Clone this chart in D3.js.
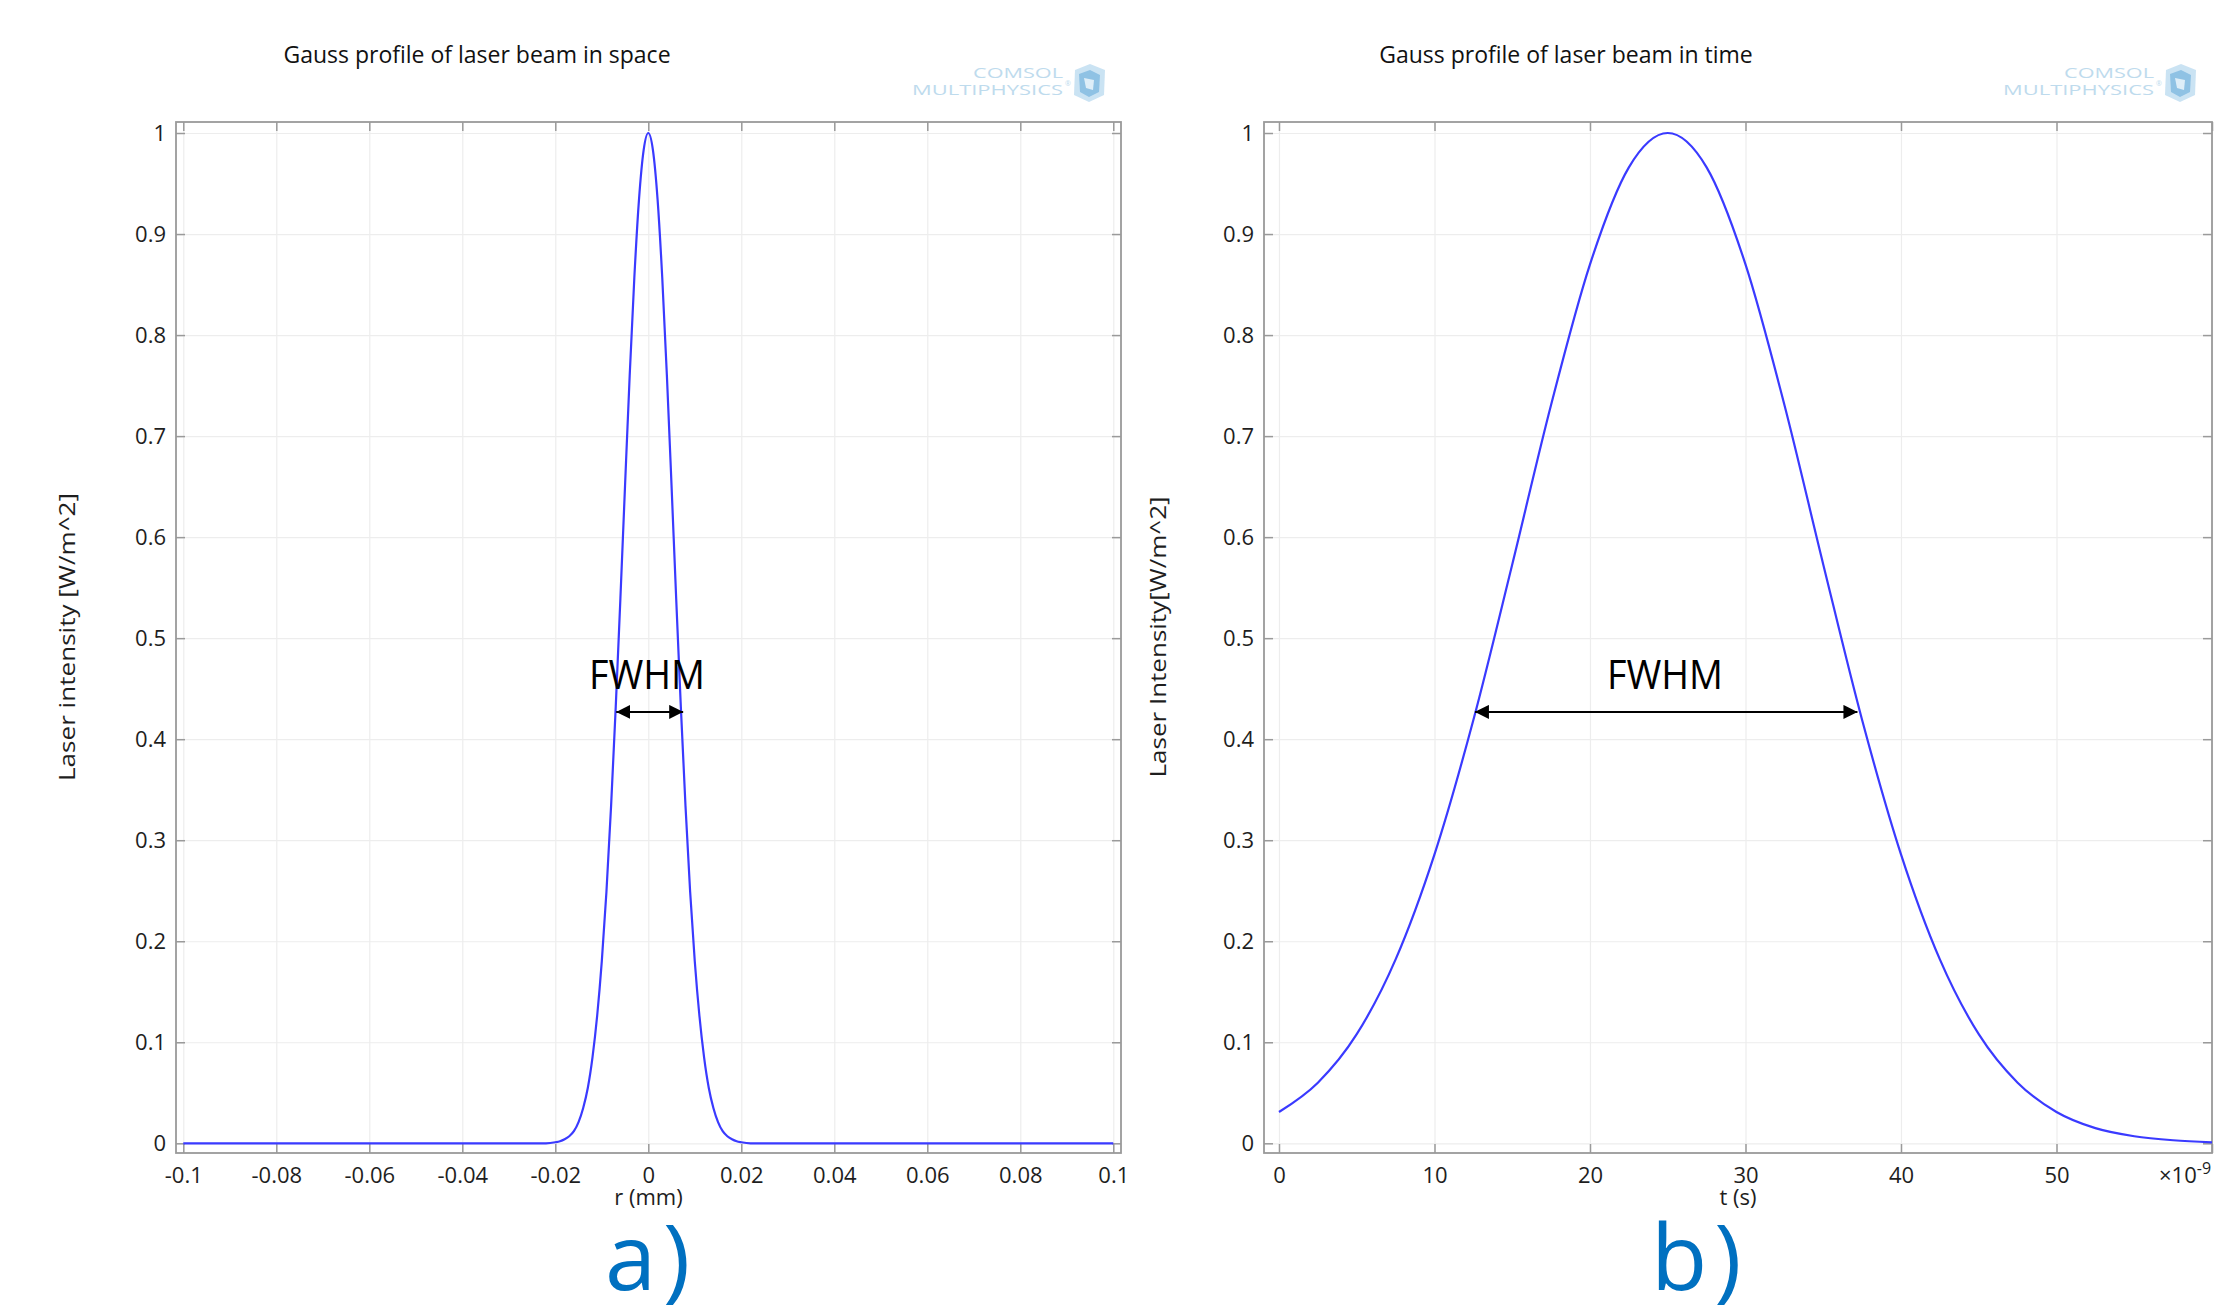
<!DOCTYPE html>
<html><head><meta charset="utf-8">
<script src="https://cdn.jsdelivr.net/npm/d3@7"></script>
<style>
body{margin:0;background:#fff}
svg{display:block}
text{font-family:"Open Sans","Noto Sans",sans-serif}
</style>
</head><body>
<svg id="c" width="2239" height="1315"></svg>
<script>
// ---------- data ----------
const spaceR = [-0.1,-0.06,-0.03,-0.022,-0.020,-0.019,-0.018,-0.017,-0.016,-0.015,-0.014,-0.013,-0.012,-0.011,-0.010,-0.009,-0.008,-0.007,-0.006,-0.005,-0.004,-0.003,-0.002,-0.001,0,
  0.001,0.002,0.003,0.004,0.005,0.006,0.007,0.008,0.009,0.010,0.011,0.012,0.013,0.014,0.015,0.016,0.017,0.018,0.019,0.020,0.022,0.03,0.06,0.1];
const spaceI = [0,0,0,0,0.001,0.002,0.004,0.007,0.012,0.021,0.035,0.055,0.085,0.126,0.180,0.249,0.334,0.432,0.539,0.651,0.760,0.857,0.934,0.983,1,
  0.983,0.934,0.857,0.760,0.651,0.539,0.432,0.334,0.249,0.180,0.126,0.085,0.055,0.035,0.021,0.012,0.007,0.004,0.002,0.001,0,0,0,0];

const timeT = [0,2.5,5,7.5,10,12.5,15,17.5,20,22.5,25,27.5,30,32.5,35,37.5,40,42.5,45,47.5,50,52.5,55,57.5,60];
const timeI = [0.031,0.060,0.108,0.182,0.286,0.419,0.573,0.731,0.870,0.966,1.000,0.966,0.870,0.731,0.573,0.419,0.286,0.182,0.108,0.060,0.031,0.015,0.007,0.003,0.001];

const spaceTicks = [-0.1,-0.08,-0.06,-0.04,-0.02,0,0.02,0.04,0.06,0.08,0.1];
const spaceTickLabels = ["-0.1","-0.08","-0.06","-0.04","-0.02","0","0.02","0.04","0.06","0.08","0.1"];
const timeTicks = [0,10,20,30,40,50,60];
const timeTickLabels = ["0","10","20","30","40","50",""];
const yTicks = [0,0.1,0.2,0.3,0.4,0.5,0.6,0.7,0.8,0.9,1];
const yTickLabels = ["0","0.1","0.2","0.3","0.4","0.5","0.6","0.7","0.8","0.9","1"];

const fwhmSpace = [-0.0069, 0.0075, 0.427];
const fwhmTime = [12.6, 37.2, 0.427];

const titles = ["Gauss profile of laser beam in space","Gauss profile of laser beam in time"];
const xLabels = ["r (mm)","t (s)"];
const yLabels = ["Laser intensity [W/m^2]","Laser Intensity[W/m^2]"];
const panelLetters = ["a)","b)"];

// ---------- drawing ----------
const svg = d3.select("#c");
const FRAME = "#9a9a9a", GRID = "#ededed", INK = "#1e1e1e", CURVE = "#3a3aff";

svg.append("defs").append("marker")
  .attr("id","ah").attr("viewBox","0 0 10 10").attr("refX",10).attr("refY",5)
  .attr("markerWidth",7).attr("markerHeight",7).attr("markerUnits","strokeWidth")
  .attr("orient","auto-start-reverse")
  .append("path").attr("d","M0,0 L10,5 L0,10 Z").attr("fill","#000");

const panels = [
  {left:176,right:1121,xdom:[-0.10157,0.10166],xs:spaceR,ys:spaceI,ticks:spaceTicks,tl:spaceTickLabels,fw:fwhmSpace,curve:d3.curveMonotoneX,
   title:titles[0],titleX:477,xl:xLabels[0],yl:yLabels[0],ylX:75,ylLen:288,letter:panelLetters[0],letterX:605,fwX:647,logoDx:0},
  {left:1264,right:2212,xdom:[-0.964,60],xs:timeT,ys:timeI,ticks:timeTicks,tl:timeTickLabels,fw:fwhmTime,curve:d3.curveMonotoneX,
   title:titles[1],titleX:1566,xl:xLabels[1],yl:yLabels[1],ylX:1166,ylLen:281,letter:panelLetters[1],letterX:1651,fwX:1665,logoDx:1091}
];
const plotTop = 122, plotBottom = 1153;

panels.forEach((p,pi)=>{
  const x = d3.scaleLinear().domain(p.xdom).range([p.left,p.right]);
  const y = d3.scaleLinear().domain([-0.0096,1.0109]).range([plotBottom,plotTop]);
  const g = svg.append("g");
  const W = p.right-p.left, H = plotBottom-plotTop;

  // grid
  const gx = g.append("g").attr("transform",`translate(0,${plotBottom})`)
    .call(d3.axisBottom(x).tickValues(p.ticks).tickSize(-H).tickFormat(""));
  const gy = g.append("g").attr("transform",`translate(${p.left},0)`)
    .call(d3.axisLeft(y).tickValues(yTicks).tickSize(-W).tickFormat(""));
  [gx,gy].forEach(a=>{a.select(".domain").remove();a.selectAll("line").attr("stroke",GRID).attr("stroke-width",1.2);});

  // axes with inner ticks
  const ax = g.append("g").attr("transform",`translate(0,${plotBottom})`)
    .call(d3.axisBottom(x).tickValues(p.ticks).tickSize(-9).tickPadding(14.5).tickFormat((d,i)=>p.tl[i]));
  const axT = g.append("g").attr("transform",`translate(0,${plotTop})`)
    .call(d3.axisTop(x).tickValues(p.ticks).tickSize(-9).tickFormat(""));
  const ay = g.append("g").attr("transform",`translate(${p.left},0)`)
    .call(d3.axisLeft(y).tickValues(yTicks).tickSize(-9).tickPadding(10).tickFormat((d,i)=>yTickLabels[i]));
  const ayR = g.append("g").attr("transform",`translate(${p.right},0)`)
    .call(d3.axisRight(y).tickValues(yTicks).tickSize(-9).tickFormat(""));
  [ax,axT,ay,ayR].forEach(a=>{
    a.select(".domain").remove();
    a.selectAll("line").attr("stroke",FRAME).attr("stroke-width",1.5);
    a.selectAll("text").attr("fill",INK).style("font-size","22px").style("font-family",'"Open Sans",sans-serif');
  });

  // frame
  g.append("rect").attr("x",p.left).attr("y",plotTop).attr("width",W).attr("height",H)
    .attr("fill","none").attr("stroke",FRAME).attr("stroke-width",1.8);

  // curve
  const line = d3.line().x((d,i)=>x(p.xs[i])).y(d=>y(d)).curve(p.curve);
  g.append("path").attr("d",line(p.ys)).attr("fill","none").attr("stroke",CURVE).attr("stroke-width",2.2);

  // FWHM annotation
  g.append("line").attr("x1",x(p.fw[0])).attr("x2",x(p.fw[1])).attr("y1",y(p.fw[2])).attr("y2",y(p.fw[2]))
    .attr("stroke","#000").attr("stroke-width",2)
    .attr("marker-start","url(#ah)").attr("marker-end","url(#ah)");
  g.append("text").attr("x",p.fwX).attr("y",689).attr("text-anchor","middle")
    .attr("textLength",116).attr("lengthAdjust","spacingAndGlyphs")
    .style("font-size","40px").attr("fill","#000").text("FWHM");

  // title
  g.append("text").attr("x",p.titleX).attr("y",63).attr("text-anchor","middle")
    .style("font-size","23px").attr("fill","#111").text(p.title);
  // axis labels
  g.append("text").attr("x",(p.left+p.right)/2).attr("y",1205).attr("text-anchor","middle")
    .style("font-size","22px").attr("fill",INK).text(p.xl);
  g.append("text").attr("transform",`translate(${p.ylX},637) rotate(-90)`).attr("text-anchor","middle")
    .attr("textLength",p.ylLen).attr("lengthAdjust","spacingAndGlyphs")
    .style("font-size","22px").attr("fill",INK).text(p.yl);
  // panel letter
  g.append("text").attr("x",p.letterX).attr("y",1290).style("font-size","92px")
    .style("letter-spacing","7px").attr("fill","#0070C0").text(p.letter);

  // logo
  const lg = g.append("g").attr("transform",`translate(${p.logoDx},0)`).attr("opacity",0.75);
  lg.append("text").attr("x",973).attr("y",78).attr("textLength",90).attr("lengthAdjust","spacingAndGlyphs")
    .style("font-size","15px").attr("fill","#a9cfe8").text("COMSOL");
  lg.append("text").attr("x",912).attr("y",95).attr("textLength",151).attr("lengthAdjust","spacingAndGlyphs")
    .style("font-size","15px").attr("fill","#a9cfe8").text("MULTIPHYSICS");
  lg.append("text").attr("x",1065).attr("y",86).style("font-size","7px").attr("fill","#a9cfe8").text("®");
  lg.append("path").attr("d","M1075,70 L1090,64 L1105,70 L1104,95 L1089,102 L1074,95 Z").attr("fill","#b9daf0");
  lg.append("path").attr("d","M1079,74 L1090,70 L1100,75 L1099,92 L1089,97 L1080,92 Z").attr("fill","#6aaedc");
  lg.append("path").attr("d","M1084,78 L1094,80 L1093,90 L1086,88 Z").attr("fill","#d4e9f6");
});

// x10^-9 exponent label for time axis
svg.append("text").attr("x",2159).attr("y",1183).style("font-size","22px").attr("fill",INK)
  .text("×10").append("tspan").attr("dy",-9).style("font-size","16px").text("-9");
</script>
</body></html>
